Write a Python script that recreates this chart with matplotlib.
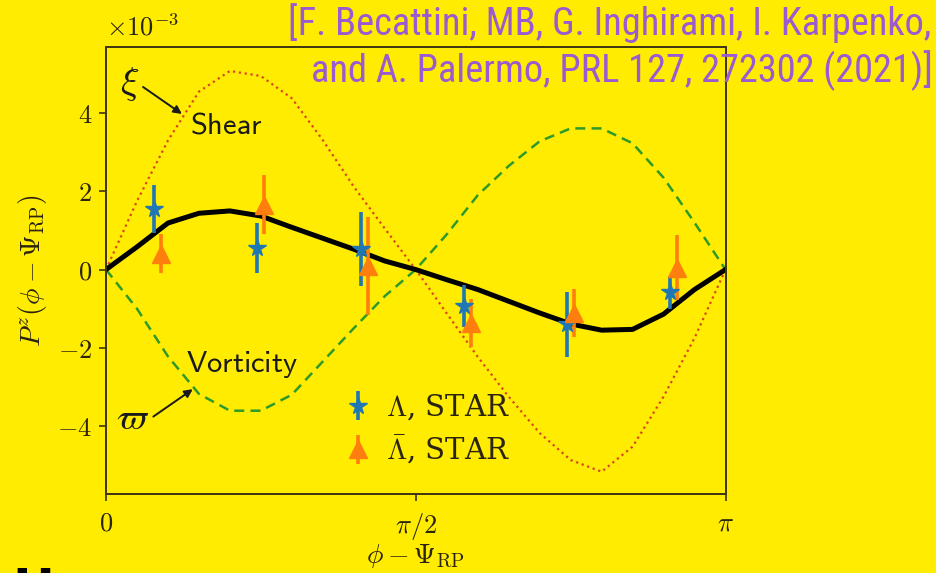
import numpy as np
import matplotlib
matplotlib.use("Agg")
import matplotlib.pyplot as plt
from matplotlib import font_manager

plt.rcParams["mathtext.fontset"] = "cm"

# ---- model curves (units of 1e-3), sampled every pi/20 ----
phi_grid = np.linspace(0.0, np.pi, 21)
pz_total = [0.0, 0.58, 1.19, 1.44, 1.50, 1.37, 1.08, 0.80, 0.52, 0.22, 0.0,
            -0.26, -0.51, -0.81, -1.11, -1.39, -1.55, -1.53, -1.14, -0.51, 0.0]
pz_shear = [0.0, 1.75, 3.30, 4.55, 5.08, 4.95, 4.38, 3.31, 2.12, 1.05, 0.0,
            -1.12, -2.23, -3.25, -4.18, -4.87, -5.17, -4.53, -3.25, -1.75, 0.0]
pz_vort = [0.0, -1.00, -2.22, -3.18, -3.61, -3.61, -3.20, -2.35, -1.50, -0.68, 0.0,
           0.90, 1.90, 2.65, 3.28, 3.61, 3.61, 3.23, 2.35, 1.20, 0.0]

# ---- STAR data (units of 1e-3) ----
phi_bins = np.array([1, 3, 5, 7, 9, 11]) * np.pi / 12
lam = [1.55, 0.55, 0.53, -0.93, -1.40, -0.58]
lam_err = [0.61, 0.65, 0.95, 0.53, 0.83, 0.42]
alam = [0.40, 1.66, 0.10, -1.36, -1.11, 0.05]
alam_err = [0.50, 0.76, 1.25, 0.62, 0.61, 0.83]
bin_shift = 0.018

xtick_vals = [0.0, np.pi / 2, np.pi]
xtick_labels = [r"$0$", r"$\pi/2$", r"$\pi$"]
ytick_vals = [-4, -2, 0, 2, 4]
ytick_labels = [r"$-4$", r"$-2$", r"$0$", r"$2$", r"$4$"]

bg = "#ffec00"
spine_col = "#3d3514"
ink = "#2a2410"
blue = "#1f77b4"
orange = "#ff7f0e"

fig = plt.figure(figsize=(9.36, 5.73), dpi=100, facecolor=bg)
ax = fig.add_axes([106 / 936, 1 - 494 / 573, 619.5 / 936, 447.3 / 573])
ax.set_facecolor(bg)

ax.plot(phi_grid, pz_shear, ls=":", lw=1.6, color="#d9461e")
ax.plot(phi_grid, pz_vort, ls="--", lw=1.8, color="#2e9a2a", dashes=(4, 2.5))
ax.plot(phi_grid, pz_total, "-", lw=3.6, color="black", solid_joinstyle="round")

h1 = ax.errorbar(phi_bins - bin_shift, lam, yerr=lam_err, fmt="*", ms=13,
                 color=blue, ecolor=blue, elinewidth=2.6, capsize=0, zorder=4)
h2 = ax.errorbar(phi_bins + bin_shift, alam, yerr=alam_err, fmt="^", ms=13,
                 color=orange, ecolor=orange, elinewidth=2.6, capsize=0, zorder=4)

ax.set_xlim(0, np.pi)
ax.set_ylim(-5.74, 5.70)
ax.set_xticks(xtick_vals)
ax.set_xticklabels(xtick_labels)
ax.set_yticks(ytick_vals)
ax.set_yticklabels(ytick_labels)
ax.tick_params(direction="out", length=5, width=1.2, colors=spine_col,
               labelcolor=ink, labelsize=19)
ax.tick_params(axis="x", pad=7)
ax.tick_params(axis="y", pad=5)
for s in ax.spines.values():
    s.set_color(spine_col)
    s.set_linewidth(1.4)

ax.text(0.0, 1.012, r"$\times 10^{-3}$", transform=ax.transAxes,
        fontsize=19, color=ink, ha="left", va="bottom")

ax.set_xlabel(r"$\phi - \Psi_{\rm RP}$", fontsize=20, color=ink, labelpad=0)
ax.set_ylabel(r"$P^z(\phi - \Psi_{\rm RP})$", fontsize=20, color=ink, labelpad=6)

# annotations for the two contributions
ax.text(0.122, 4.74, r"$\xi$", fontsize=28, ha="center", va="center", color="#1a1a1a")
ax.annotate("", xy=(0.385, 3.98), xytext=(0.188, 4.67),
            arrowprops=dict(arrowstyle="-|>", lw=1.4, color="#1a1a1a", mutation_scale=12,
                            shrinkA=0, shrinkB=0))
ax.text(0.426, 3.49, r"$\mathsf{Shear}$", fontsize=22, ha="left", va="baseline",
        color="#1a1a1a")

ax.text(0.135, -3.83, r"$\varpi$", fontsize=27, ha="center", va="center", color="#1a1a1a")
ax.annotate("", xy=(0.440, -3.06), xytext=(0.240, -3.76),
            arrowprops=dict(arrowstyle="-|>", lw=1.4, color="#1a1a1a", mutation_scale=12,
                            shrinkA=0, shrinkB=0))
ax.text(0.406, -2.61, r"$\mathsf{Vorticity}$", fontsize=22, ha="left", va="baseline",
        color="#1a1a1a")

leg = ax.legend([h1, h2], [r"$\Lambda$, STAR", r"$\bar{\Lambda}$, STAR"],
                loc="upper left", bbox_to_anchor=(0.343, 0.286), frameon=False,
                handlelength=0.9, handletextpad=0.5, labelspacing=0.35,
                prop={"family": "serif", "size": 21})
for t in leg.get_texts():
    t.set_color(ink)

# citation: prefer a narrow sans face when one is installed
fonts = font_manager.fontManager.ttflist
names = {f.name for f in fonts}
cite_font, cite_stretch, cite_size = "Roboto", "normal", 24.5
for cand in ["Roboto Condensed", "Liberation Sans Narrow", "Open Sans Condensed",
             "Noto Sans Condensed", "DejaVu Sans Condensed"]:
    if cand in names:
        cite_font, cite_size = cand, 27.6
        break
else:
    narrow = [f for f in fonts if f.stretch in ("condensed", "semi-condensed")
              and f.name in ("Roboto", "Open Sans", "Noto Sans", "DejaVu Sans", "Inter")]
    if narrow:
        cite_font, cite_stretch, cite_size = narrow[0].name, narrow[0].stretch, 27.6

cite_kw = dict(ha="right", va="baseline", fontsize=cite_size, color="#9a5ad2",
               family=cite_font, stretch=cite_stretch)
fig.text(931 / 936, 1 - 35 / 573, "[F. Becattini, MB, G. Inghirami, I. Karpenko,", **cite_kw)
fig.text(933 / 936, 1 - 82 / 573, "and A. Palermo, PRL 127, 272302 (2021)]", **cite_kw)

fig.text(12 / 936, 1 - 566 / 573, "H", ha="left", va="top", fontsize=36,
         weight="bold", color="black", family="DejaVu Sans")

fig.savefig("out.png", dpi=100, facecolor=bg)
